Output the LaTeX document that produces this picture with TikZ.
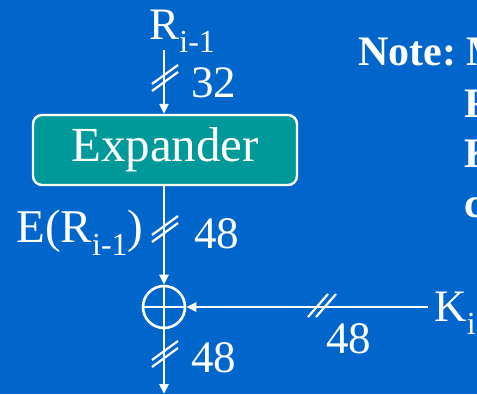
\documentclass[tikz,border=0pt]{standalone}
\usepackage{fontspec}
\setmainfont{Liberation Serif}
\usetikzlibrary{arrows.meta}
\definecolor{bg}{RGB}{0,102,204}
\definecolor{boxteal}{RGB}{0,153,153}
\newcommand\mysub[1]{\raisebox{-13pt}{\fontsize{32}{32}\selectfont #1}}
\begin{document}
\begin{tikzpicture}[x=1pt,y=-1pt,line width=2.8pt,
  arr/.style={draw=white,line width=2.8pt,-{Triangle[length=10pt,width=9pt]}},
  lbl/.style={text=white,font=\fontsize{45}{45}\selectfont,inner sep=0pt},
  note/.style={text=white,font=\bfseries\fontsize{42}{42}\selectfont,inner sep=0pt,anchor=base west},
  expbox/.style={draw=white,line width=2.4pt,fill=boxteal,rounded corners=9pt,
    minimum width=264pt,minimum height=70pt,text=white,inner sep=0pt,
    font=\fontsize{49}{49}\selectfont},
  xorc/.style={circle,draw=white,line width=2.6pt,minimum size=42pt,inner sep=0pt},
  vslash/.pic={\draw[white,line width=2.2pt] (-13,6)--(13,-13) (-13,13)--(13,-6);},
  hslash/.pic={\draw[white,line width=2.2pt] (-14,12)--(6,-11) (-6,12)--(14,-11);}]
\useasboundingbox (0,0) rectangle (477,394);
\fill[bg] (0,0) rectangle (477,394);
\clip (0,0) rectangle (477,394);

% nodes
\node[lbl,anchor=base west] (R) at (148,39) {R\mysub{i-1}};
\coordinate (rtop) at (164,50);
\node[expbox] (exp) at (165,150) {Expander};
\node[lbl,anchor=base west,font=\fontsize{47}{47}\selectfont] (ER) at (15,242) {E(R\mysub{i-1})};
\node[xorc] (xor) at (164,307) {};
\node[lbl,anchor=base west] (K) at (433,321) {K\mysub{i}};
\coordinate (kk) at (428,307);
\coordinate (bot) at (164,394);

% width labels
\node[lbl,anchor=base west] (w1) at (190,97) {32};
\node[lbl,anchor=base west] (w2) at (193,248) {48};
\node[lbl,anchor=base west] (w3) at (325,353) {48};
\node[lbl,anchor=base west] (w4) at (190,372) {48};

% connectors
\draw[arr] (rtop) -- (rtop |- exp.north);
\draw[arr] (rtop |- exp.south) -- (xor.north);
\draw[arr] (kk) -- (xor.east);
\draw[arr] (xor.south) -- (bot);
\draw[white,line width=2.4pt] (xor.north) -- (xor.south) (xor.west) -- (xor.east);

% bus-width slashes
\pic at (165,78) {vslash};
\pic at (165,229) {vslash};
\pic at (165,354) {vslash};
\pic at (322,305) {hslash};

% note (cut by the picture edge)
\node[note] (n1) at (357,65) {Note:};
\node[note] (n1b) at (465,65) {M};
\node[note] (n2) at (463,117) {F};
\node[note] (n3) at (463,167) {K};
\node[note] (n4) at (463,217) {c};
\end{tikzpicture}
\end{document}
